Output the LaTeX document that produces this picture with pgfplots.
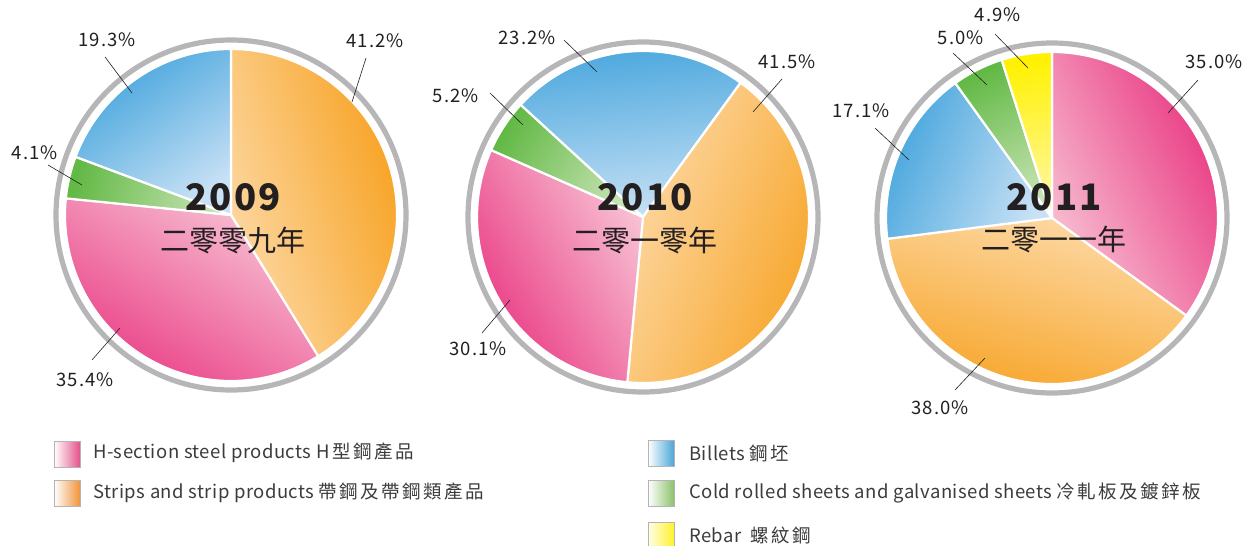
\documentclass[border=0pt]{standalone}
\usepackage{pgfplots}
\pgfplotsset{compat=1.18}
\usepackage{fontspec}
\setmainfont{Noto Sans CJK TC}
\newfontfamily\cjkw[LetterSpace=13]{Noto Sans CJK TC}
\newfontfamily\numw[LetterSpace=6]{Noto Sans CJK TC}
\newfontfamily\legw[LetterSpace=2.5]{Noto Sans CJK TC}
\definecolor{pinkD}{HTML}{E93580}
\definecolor{pinkL}{HTML}{F8C2D4}
\definecolor{orangeD}{HTML}{F7A11F}
\definecolor{orangeL}{HTML}{FDDAA8}
\definecolor{blueD}{HTML}{41A3DC}
\definecolor{blueL}{HTML}{C8E1F5}
\definecolor{greenD}{HTML}{63B946}
\definecolor{greenL}{HTML}{C8E4B5}
\definecolor{yellowD}{HTML}{FFF100}
\definecolor{yellowL}{HTML}{FFF8A8}
\definecolor{ringc}{HTML}{B6B6B8}
\definecolor{txt}{HTML}{231F20}
\definecolor{legtxt}{HTML}{3C3C3C}
\definecolor{sqpink}{HTML}{E4528A}
\definecolor{sqorange}{HTML}{F0943A}
\definecolor{sqblue}{HTML}{4AA6D8}
\definecolor{sqgreen}{HTML}{8CC26A}
\definecolor{sqyellow}{HTML}{FFF22A}
\definecolor{sqframe}{HTML}{B4B4B4}

% pie: cx, cy, start angle, list value/colour (values in percent)
\newcommand\pie[4]{%
  \def\cur{#3}%
  \pgfplotsforeachungrouped \val/\col in {#4}{%
    \pgfmathsetmacro\nxt{\cur-3.6*\val}%
    \pgfmathsetmacro\sang{(\cur+\nxt)/2-90}%
    \edef\temp{\noexpand\path[top color=\col D, bottom color=\col L, shading angle=\sang, draw=white, line width=2.2pt, line join=round] (axis cs:#1,#2) -- ++(\cur:166pt) arc[start angle=\cur, end angle=\nxt, radius=166pt] -- cycle;}%
    \temp
    \global\let\cur\nxt
  }%
  \edef\temp{\noexpand\draw[ringc, line width=5.2pt] (axis cs:#1,#2) circle[radius=175pt];}\temp
}

\begin{document}
\begin{tikzpicture}
\begin{axis}[
  x=1pt, y=1pt, xmin=0, xmax=1245, ymin=0, ymax=546, y dir=reverse,
  hide axis, clip=false, scale only axis]

% 2009: Strips, H-section, Cold rolled, Billets
\pie{231}{215}{90}{41.2/orange, 35.4/pink, 4.1/green, 19.3/blue}
% 2010: Billets, Strips, H-section, Cold rolled
\pie{643}{217}{137.5}{23.2/blue, 41.5/orange, 30.1/pink, 5.2/green}
% 2011: H-section, Strips, Billets, Cold rolled, Rebar
\pie{1052}{218}{90}{35.0/pink, 38.0/orange, 17.1/blue, 5.0/green, 4.9/yellow}

% centre titles
\begin{scope}[every node/.style={inner sep=0pt, text=txt}]
\node[font=\fontsize{36.5}{36.5}\selectfont\bfseries\numw] at (axis cs:233,197) {2009};
\node[font=\fontsize{29}{29}\selectfont] at (axis cs:233,240) {二零零九年};
\node[font=\fontsize{36.5}{36.5}\selectfont\bfseries\numw] at (axis cs:645,197) {2010};
\node[font=\fontsize{29}{29}\selectfont] at (axis cs:645,240) {二零一零年};
\node[font=\fontsize{36.5}{36.5}\selectfont\bfseries\numw] at (axis cs:1054,197) {2011};
\node[font=\fontsize{29}{29}\selectfont] at (axis cs:1054,239) {二零一一年};
\end{scope}

% percentage labels and leader lines
\begin{scope}[every node/.style={inner sep=0pt, text=txt, font=\fontsize{18.5}{18.5}\selectfont\numw}]
\draw[txt, line width=0.6pt] (axis cs:366,58) -- (axis cs:352,102);
\node at (axis cs:375,41) {41.2\%};
\draw[txt, line width=0.6pt] (axis cs:105,57) -- (axis cs:132,93);
\node at (axis cs:107,40) {19.3\%};
\draw[txt, line width=0.6pt] (axis cs:48,165) -- (axis cs:82,185);
\node at (axis cs:35,153) {4.1\%};
\draw[txt, line width=0.6pt] (axis cs:92,360) -- (axis cs:120,328);
\node at (axis cs:85,380) {35.4\%};

\draw[txt, line width=0.6pt] (axis cs:564,40) -- (axis cs:597,72);
\node at (axis cs:527,38) {23.2\%};
\draw[txt, line width=0.6pt] (axis cs:782,79) -- (axis cs:753,112);
\node at (axis cs:787,62) {41.5\%};
\draw[txt, line width=0.6pt] (axis cs:490,93) -- (axis cs:523,125);
\node at (axis cs:456,96) {5.2\%};
\draw[txt, line width=0.6pt] (axis cs:482,333) -- (axis cs:510,300);
\node at (axis cs:478,349) {30.1\%};

\draw[txt, line width=0.6pt] (axis cs:1198,80) -- (axis cs:1168,113);
\node at (axis cs:1214,62) {35.0\%};
\draw[txt, line width=0.6pt] (axis cs:953,53) -- (axis cs:987,85);
\node at (axis cs:961,38) {5.0\%};
\draw[txt, line width=0.6pt] (axis cs:995,34) -- (axis cs:1028,68);
\node at (axis cs:998,15) {4.9\%};
\draw[txt, line width=0.6pt] (axis cs:875,128) -- (axis cs:909,160);
\node at (axis cs:861,111) {17.1\%};
\draw[txt, line width=0.6pt] (axis cs:955,390) -- (axis cs:985,358);
\node at (axis cs:940,408) {38.0\%};
\end{scope}

% legend
\path[left color=white, right color=sqpink, draw=sqframe, line width=0.9pt] (axis cs:54,441) rectangle (axis cs:80,467);
\path[left color=white, right color=sqorange, draw=sqframe, line width=0.9pt] (axis cs:54,480) rectangle (axis cs:80,506);
\path[left color=white, right color=sqblue, draw=sqframe, line width=0.9pt] (axis cs:648,440) rectangle (axis cs:674,466);
\path[left color=white, right color=sqgreen, draw=sqframe, line width=0.9pt] (axis cs:648,480) rectangle (axis cs:674,506);
\path[left color=yellowL!25, right color=sqyellow, draw=sqframe, line width=0.9pt] (axis cs:648,522) rectangle (axis cs:674,548);
\begin{scope}[every node/.style={inner sep=0pt, anchor=west, text=legtxt, font=\fontsize{18.5}{18.5}\selectfont\legw}]
\node at (axis cs:93,453) {H-section steel products H{\cjkw\,型鋼產品}};
\node at (axis cs:93,493) {Strips and strip products {\cjkw 帶鋼及帶鋼類產品}};
\node at (axis cs:689,453) {Billets {\cjkw 鋼坯}};
\node at (axis cs:689,493) {Cold rolled sheets and galvanised sheets {\cjkw 冷軋板及鍍鋅板}};
\node at (axis cs:689,535) {Rebar\ \ {\cjkw 螺紋鋼}};
\end{scope}
\end{axis}
\pgfresetboundingbox
\useasboundingbox (0,0) rectangle (1245pt,546pt);
\end{tikzpicture}
\end{document}
